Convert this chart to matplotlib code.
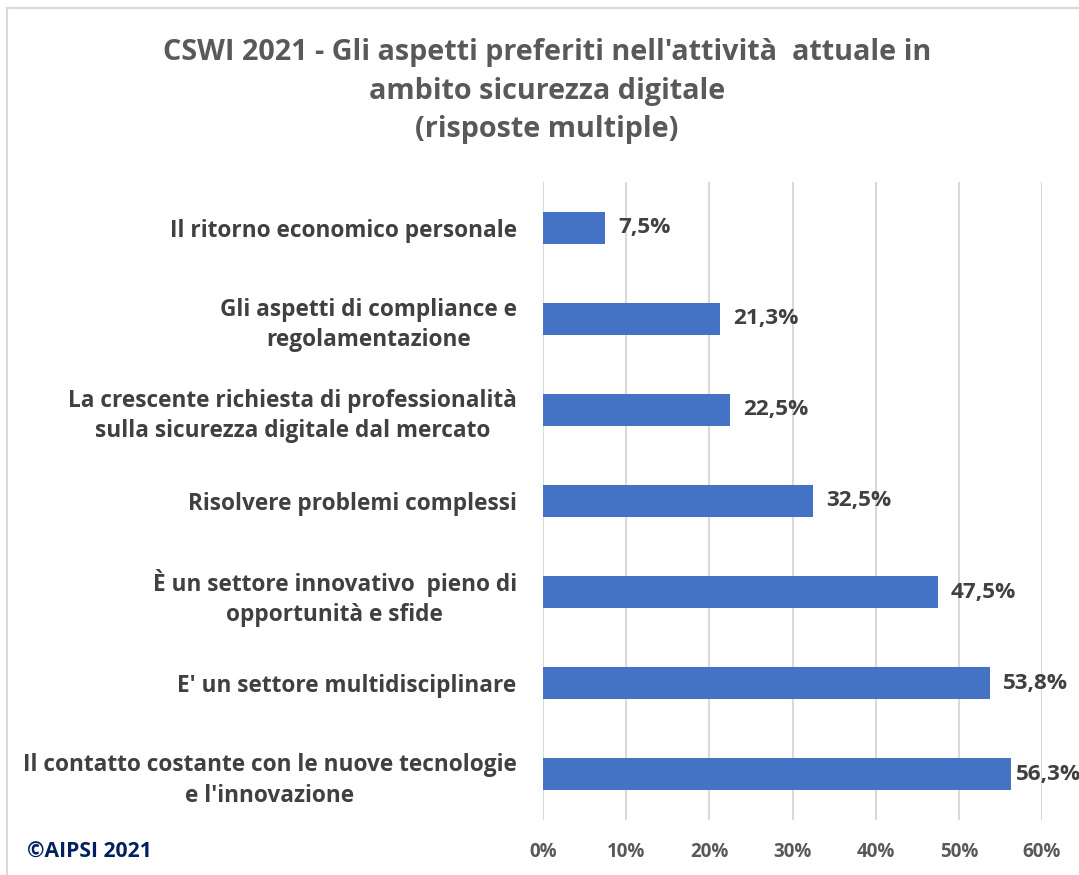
import matplotlib.pyplot as plt
from matplotlib.patches import Rectangle

plt.rcParams['font.family'] = ['Open Sans', 'DejaVu Sans']

categorie = [
    "Il contatto costante con le nuove tecnologie\ne l'innovazione",
    "E' un settore multidisciplinare",
    "È un settore innovativo  pieno di\nopportunità e sfide",
    "Risolvere problemi complessi",
    "La crescente richiesta di professionalità\nsulla sicurezza digitale dal mercato",
    "Gli aspetti di compliance e\nregolamentazione",
    "Il ritorno economico personale",
]
valori = [56.3, 53.8, 47.5, 32.5, 22.5, 21.3, 7.5]
tick_x = [0, 10, 20, 30, 40, 50, 60]

titolo = "CSWI 2021 - Gli aspetti preferiti nell'attività  attuale in\nambito sicurezza digitale\n(risposte multiple)"

fig = plt.figure(figsize=(10.79, 8.75), dpi=100)
ax = fig.add_axes([0.5033, 0.0629, 0.4624, 0.7291])

# cornice grigia del grafico
fig.patches.append(Rectangle((0.0065, -0.01), 1.0, 1 - 0.0091 + 0.01, transform=fig.transFigure,
                             fill=False, edgecolor='#d9d9d9', linewidth=1.5))

pos = range(len(categorie))
ax.barh(pos, valori, height=0.35, color='#4472c4', zorder=3)

# etichette dei valori: l'ultima viene tenuta dentro il riquadro
for y, v in zip(pos, valori):
    ax.text(min(v + 1.55, 56.85), y, f"{v:.1f}%".replace('.', ','), va='center', ha='left',
            fontsize=16.2, fontweight='bold', color='#404040')

ax.set_xlim(0, 60)
ax.set_ylim(-0.5, len(categorie) - 0.5)
ax.set_xticks(tick_x)
ax.set_xticklabels([f"{t}%" for t in tick_x], fontsize=13.5, fontweight='bold', color='#595959')
ax.set_yticks(list(pos))
ax.set_yticklabels(categorie, fontsize=16.3, fontweight='bold', color='#404040',
                   multialignment='center', linespacing=1.35)
ax.tick_params(axis='both', length=0)
ax.tick_params(axis='x', pad=16)
ax.tick_params(axis='y', pad=19)
ax.grid(axis='x', color='#d9d9d9', linewidth=1.5, zorder=0)
for s in ax.spines.values():
    s.set_visible(False)

fig.text(0.507, 0.896, titolo, ha='center', va='center', fontsize=20.7, fontweight='bold',
         color='#595959', linespacing=1.43)
fig.text(0.025, 0.026, "©AIPSI 2021", ha='left', va='center', fontsize=15.2,
         fontweight='bold', color='#002060')

fig.savefig('out.png', dpi=100)
